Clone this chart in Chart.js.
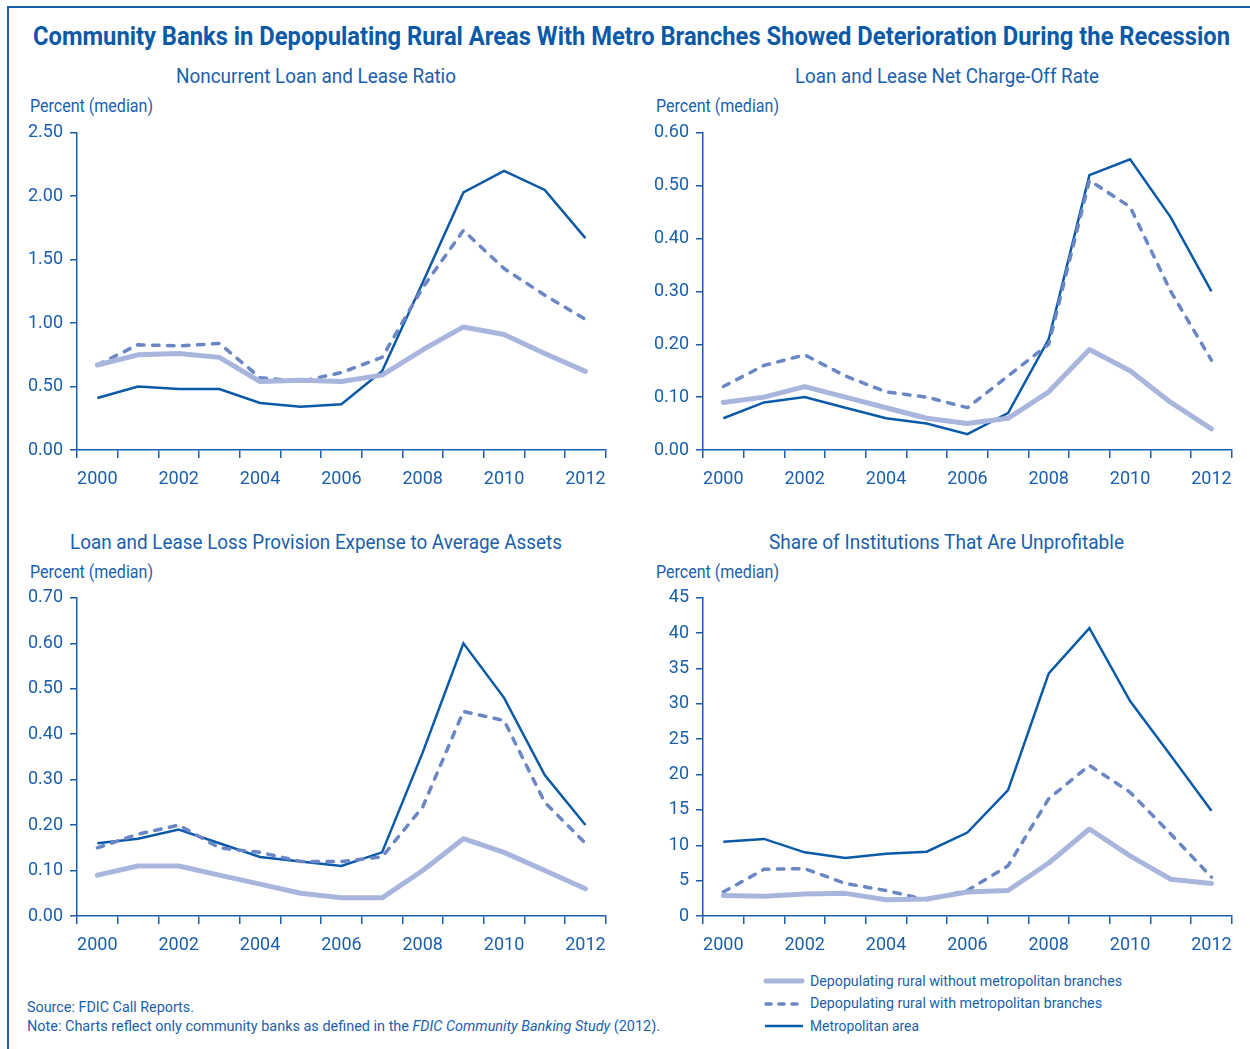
<!DOCTYPE html>
<html>
<head>
<meta charset="utf-8">
<script src="https://cdn.jsdelivr.net/npm/chart.js@4.4.1/dist/chart.umd.min.js"></script>
<style>
    body { margin: 0; width: 1250px; height: 1049px; background: #fff; position: relative; overflow: hidden;
           font-family: Roboto, 'Noto Sans', sans-serif; color: #1a5fad; }
    .frame { position: absolute; left: 7px; top: 6px; width: 1260px; height: 1100px;
             border-left: 2px solid #1a5fad; border-top: 2px solid #1a5fad; }
    .txt { position: absolute; white-space: nowrap; line-height: 1; transform-origin: 0 0; }
    .main { font-size: 26px; font-weight: bold; color: #0b5aa8; }
    .sub { font-size: 20px; }
    .unit { font-size: 19px; }
    .note { font-size: 15px; }
    .leg { font-size: 15px; }
    canvas { position: absolute; }
</style>
</head>
<body>
<div class="frame"></div>
<div class="txt main" style="left:33px;top:23px" data-w="1197">Community Banks in Depopulating Rural Areas With Metro Branches Showed Deterioration During the Recession</div>

<div class="txt sub" style="left:176px;top:66px" data-w="280">Noncurrent Loan and Lease Ratio</div>
<div class="txt sub" style="left:795px;top:66px" data-w="304">Loan and Lease Net Charge-Off Rate</div>
<div class="txt sub" style="left:70px;top:532px" data-w="492">Loan and Lease Loss Provision Expense to Average Assets</div>
<div class="txt sub" style="left:769px;top:532px" data-w="355">Share of Institutions That Are Unprofitable</div>

<div class="txt unit" style="left:30px;top:96px" data-w="123">Percent (median)</div>
<div class="txt unit" style="left:656px;top:96px" data-w="123">Percent (median)</div>
<div class="txt unit" style="left:30px;top:562px" data-w="123">Percent (median)</div>
<div class="txt unit" style="left:656px;top:562px" data-w="123">Percent (median)</div>

<canvas id="noncurrent" style="left:17px;top:115px" width="600" height="380"></canvas>
<canvas id="chargeoff" style="left:643px;top:115px" width="600" height="380"></canvas>
<canvas id="provision" style="left:17px;top:580px" width="600" height="381"></canvas>
<canvas id="unprofitable" style="left:643px;top:580px" width="600" height="381"></canvas>

<svg style="position:absolute;left:760px;top:970px" width="50" height="66">
    <line x1="6" y1="11" x2="42" y2="11" stroke="#aab5dd" stroke-width="5" stroke-linecap="round"/>
    <line x1="6" y1="34" x2="42" y2="34" stroke="#6a86c4" stroke-width="3.5" stroke-linecap="round" stroke-dasharray="5 8"/>
    <line x1="5" y1="56" x2="43" y2="56" stroke="#0b5aa8" stroke-width="2.5"/>
</svg>
<div class="txt leg" style="left:810px;top:974px" data-w="312">Depopulating rural without metropolitan branches</div>
<div class="txt leg" style="left:810px;top:996px" data-w="292">Depopulating rural with metropolitan branches</div>
<div class="txt leg" style="left:810px;top:1019px" data-w="109">Metropolitan area</div>

<div class="txt note" style="left:27px;top:1000px" data-w="167">Source: FDIC Call Reports.</div>
<div class="txt note" style="left:27px;top:1019px" data-w="633">Note: Charts reflect only community banks as defined in the <i>FDIC Community Banking Study</i> (2012).</div>

<script>
const years = ['2000', '2001', '2002', '2003', '2004', '2005', '2006', '2007', '2008', '2009', '2010', '2011', '2012'];

// Noncurrent loan and lease ratio
const noncurrentRural = [0.67, 0.75, 0.76, 0.73, 0.54, 0.55, 0.54, 0.59, 0.79, 0.97, 0.91, 0.76, 0.62];
const noncurrentRuralMetro = [0.67, 0.83, 0.82, 0.84, 0.57, 0.54, 0.61, 0.73, 1.28, 1.73, 1.43, 1.22, 1.03];
const noncurrentMetro = [0.41, 0.50, 0.48, 0.48, 0.37, 0.34, 0.36, 0.62, 1.32, 2.03, 2.20, 2.05, 1.67];

// Net charge-off rate
const chargeoffRural = [0.09, 0.10, 0.12, 0.10, 0.08, 0.06, 0.05, 0.06, 0.11, 0.19, 0.15, 0.09, 0.04];
const chargeoffRuralMetro = [0.12, 0.16, 0.18, 0.14, 0.11, 0.10, 0.08, 0.14, 0.20, 0.51, 0.46, 0.30, 0.17];
const chargeoffMetro = [0.06, 0.09, 0.10, 0.08, 0.06, 0.05, 0.03, 0.07, 0.21, 0.52, 0.55, 0.44, 0.30];

// Provision expense to average assets
const provisionRural = [0.09, 0.11, 0.11, 0.09, 0.07, 0.05, 0.04, 0.04, 0.10, 0.17, 0.14, 0.10, 0.06];
const provisionRuralMetro = [0.15, 0.18, 0.20, 0.15, 0.14, 0.12, 0.12, 0.13, 0.24, 0.45, 0.43, 0.25, 0.16];
const provisionMetro = [0.16, 0.17, 0.19, 0.16, 0.13, 0.12, 0.11, 0.14, 0.36, 0.60, 0.48, 0.31, 0.20];

// Share unprofitable
const unprofRural = [2.9, 2.8, 3.1, 3.2, 2.3, 2.4, 3.4, 3.6, 7.5, 12.3, 8.5, 5.2, 4.6];
const unprofRuralMetro = [3.4, 6.6, 6.7, 4.6, 3.6, 2.3, 3.6, 7.1, 16.6, 21.3, 17.5, 11.6, 5.5];
const unprofMetro = [10.5, 10.9, 9.0, 8.2, 8.8, 9.1, 11.8, 17.8, 34.3, 40.7, 30.4, 22.7, 14.9];

const seriesNames = ['Depopulating rural without metropolitan branches', 'Depopulating rural with metropolitan branches', 'Metropolitan area'];

const blue = '#1a5fad';
const fontFamily = "Roboto, 'Noto Sans', sans-serif";

// squeeze the html labels to the condensed widths of the original
document.querySelectorAll('[data-w]').forEach(function(el) {
    let w = el.getBoundingClientRect().width;
    el.style.transform = 'scaleX(' + (parseFloat(el.dataset.w) / w) + ')';
});

function createChart(id, rural, ruralMetro, metro, yMax, yStep, decimals) {
    let ctx = document.getElementById(id).getContext('2d');
    return new Chart(ctx, {
        type: 'line',
        data: {
            labels: years,
            datasets: [{
                label: seriesNames[0],
                data: rural,
                borderColor: '#aab5dd',
                borderWidth: 5,
                borderCapStyle: 'round',
                borderJoinStyle: 'round'
            }, {
                label: seriesNames[1],
                data: ruralMetro,
                borderColor: '#6a86c4',
                borderWidth: 3.5,
                borderDash: [6.5, 8.5],
                borderCapStyle: 'round'
            }, {
                label: seriesNames[2],
                data: metro,
                borderColor: '#0b5aa8',
                borderWidth: 2.5
            }]
        },
        options: {
            responsive: false,
            animation: false,
            layout: { padding: { top: 16, right: 9, bottom: 5, left: 0 } },
            elements: { point: { radius: 0 }, line: { tension: 0 } },
            plugins: { legend: { display: false }, tooltip: { enabled: false } },
            scales: {
                x: {
                    offset: true,
                    border: { color: blue, width: 1.5 },
                    grid: { offset: true, drawOnChartArea: false, tickLength: 8, color: blue, lineWidth: 1.5 },
                    ticks: {
                        autoSkip: false,
                        maxRotation: 0,
                        padding: 11,
                        color: blue,
                        font: { family: fontFamily, size: 18 },
                        callback: function(value, index) {
                            return index % 2 === 0 ? years[index] : '';
                        }
                    },
                    afterFit: function(scale) { scale.height = 40; }
                },
                y: {
                    min: 0,
                    max: yMax,
                    border: { color: blue, width: 1.5 },
                    grid: { drawOnChartArea: false, tickLength: 7, color: blue, lineWidth: 1.5 },
                    ticks: {
                        stepSize: yStep,
                        padding: 7,
                        color: blue,
                        font: { family: fontFamily, size: 18 },
                        callback: function(value) { return value.toFixed(decimals); }
                    },
                    afterFit: function(scale) { scale.width = 60; }
                }
            }
        }
    });
}

createChart('noncurrent', noncurrentRural, noncurrentRuralMetro, noncurrentMetro, 2.5, 0.5, 2);
createChart('chargeoff', chargeoffRural, chargeoffRuralMetro, chargeoffMetro, 0.6, 0.1, 2);
createChart('provision', provisionRural, provisionRuralMetro, provisionMetro, 0.7, 0.1, 2);
createChart('unprofitable', unprofRural, unprofRuralMetro, unprofMetro, 45, 5, 0);
</script>
</body>
</html>
